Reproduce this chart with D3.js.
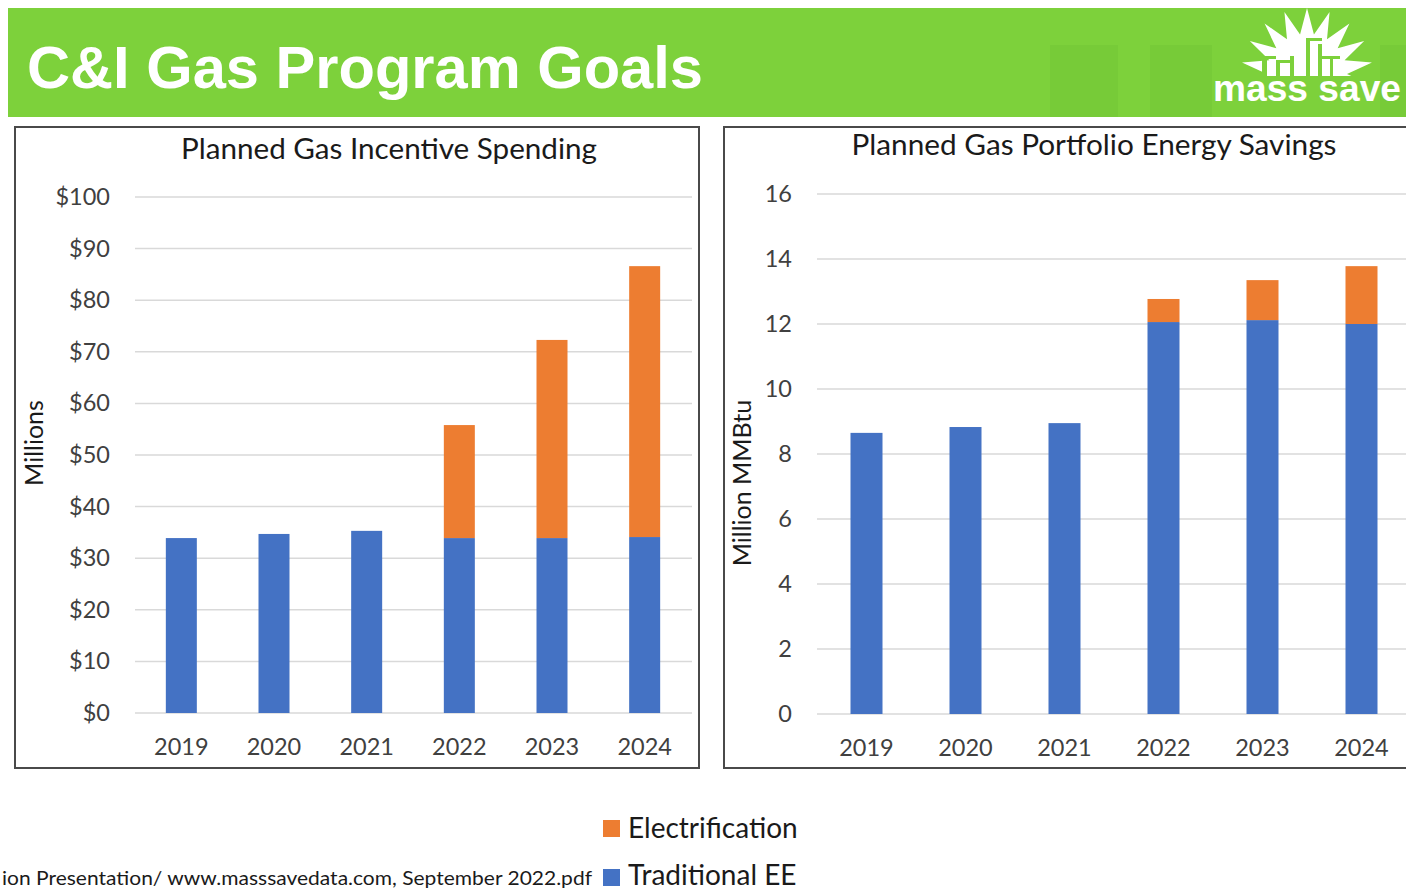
<!DOCTYPE html>
<html>
<head>
<meta charset="utf-8">
<script src="https://cdn.jsdelivr.net/npm/d3@7"></script>
<style>
  body { margin: 0; background: #fff; }
  svg { display: block; }
</style>
</head>
<body>
<div id="chart"></div>
<script>
// data
var years = ["2019", "2020", "2021", "2022", "2023", "2024"];
var seriesNames = ["Traditional EE", "Electrification"];
var spendTraditional = [33.9, 34.7, 35.3, 33.9, 33.9, 34.1];
var spendElectrification = [0, 0, 0, 21.9, 38.4, 52.5];
var spendTicks = [0, 10, 20, 30, 40, 50, 60, 70, 80, 90, 100];
var savingsTraditional = [8.65, 8.83, 8.95, 12.06, 12.12, 12.0];
var savingsElectrification = [0, 0, 0, 0.71, 1.23, 1.78];
var savingsTicks = [0, 2, 4, 6, 8, 10, 12, 14, 16];

var colors = {"Traditional EE": "#4472c4", "Electrification": "#ed7d31"};
var font = "Lato, 'Open Sans', sans-serif";
var textCol = "#404040";
var green = "#7dd13b";

var width = 1406, height = 891;
var svg = d3.select("#chart").append("svg")
    .attr("width", width).attr("height", height);

// header band
svg.append("rect").attr("x", 8).attr("y", 8).attr("width", 1398).attr("height", 109)
    .attr("fill", green);
[[1050, 45, 68], [1150, 45, 62], [1380, 45, 26]].forEach(function (b) {
  svg.append("rect").attr("x", b[0]).attr("y", b[1]).attr("width", b[2]).attr("height", 72)
      .attr("fill", "#73c737").attr("opacity", 0.6);
});
svg.append("text").attr("x", 27).attr("y", 88)
    .attr("font-family", "'Liberation Sans', Arial, sans-serif")
    .attr("font-weight", "bold").attr("font-size", 59).attr("fill", "#fff")
    .attr("textLength", 676).attr("lengthAdjust", "spacingAndGlyphs")
    .text("C&I Gas Program Goals");

// logo: sunburst + skyline + wordmark
var logo = svg.append("g");
var cx = 1307, cy = 74, pts = [];
for (var i = 0; i < 36; i++) {
  var a = Math.PI * i / 18 - Math.PI / 2, r = i % 2 ? 40 : 66;
  pts.push([cx + r * Math.cos(a), cy + r * Math.sin(a)]);
}
svg.append("clipPath").attr("id", "sunclip").append("rect")
    .attr("x", 1230).attr("y", 0).attr("width", 160).attr("height", 76);
logo.append("path").attr("d", d3.line()(pts) + "Z").attr("fill", "#fff")
    .attr("clip-path", "url(#sunclip)");
// skyline cut into the sun
[[1262, 58, 5, 18], [1276, 62, 4, 14], [1290, 56, 4, 20], [1306, 40, 4, 36],
 [1318, 44, 4, 32], [1330, 58, 3, 18], [1262, 56, 14, 3], [1276, 60, 14, 3],
 [1306, 38, 16, 3], [1322, 56, 18, 3]].forEach(function (b) {
  logo.append("rect").attr("x", b[0]).attr("y", b[1]).attr("width", b[2]).attr("height", b[3])
      .attr("fill", green);
});
logo.append("text").attr("x", 1213).attr("y", 101)
    .attr("font-family", "'Liberation Sans', Arial, sans-serif")
    .attr("font-weight", "bold").attr("font-size", 37).attr("fill", "#fff")
    .attr("textLength", 188).attr("lengthAdjust", "spacingAndGlyphs")
    .text("mass save");

function drawPanel(opt) {
  var g = svg.append("g");
  g.append("rect").attr("x", opt.box[0]).attr("y", opt.box[1])
      .attr("width", opt.box[2]).attr("height", opt.box[3])
      .attr("fill", "#fff").attr("stroke", "#4a4a4a").attr("stroke-width", 2);

  var x = d3.scaleBand().domain(years).range(opt.xRange).paddingInner(opt.pad).paddingOuter(opt.pad / 2);
  var y = d3.scaleLinear().domain([0, opt.ticks[opt.ticks.length - 1]]).range(opt.yRange);

  g.append("g").selectAll("line").data(opt.ticks).join("line")
      .attr("x1", opt.gridX[0]).attr("x2", opt.gridX[1])
      .attr("y1", function (d) { return y(d); }).attr("y2", function (d) { return y(d); })
      .attr("stroke", "#d9d9d9").attr("stroke-width", 1.5);

  var yAxis = d3.axisLeft(y).tickValues(opt.ticks).tickSize(0).tickPadding(0).tickFormat(opt.fmt);
  var ya = g.append("g").attr("transform", "translate(" + opt.tickX + ",0)").call(yAxis);
  ya.select(".domain").remove();
  ya.selectAll("text").attr("font-family", font).attr("font-size", 23.5).attr("fill", textCol);

  var xAxis = d3.axisBottom(x).tickSize(0).tickPadding(0);
  var xa = g.append("g").attr("transform", "translate(0," + opt.yearY + ")").call(xAxis);
  xa.select(".domain").remove();
  xa.selectAll("text").attr("font-family", font).attr("font-size", 23.5).attr("fill", textCol);

  var rows = years.map(function (yr, i) {
    return {year: yr, "Traditional EE": opt.trad[i], "Electrification": opt.elec[i]};
  });
  var stacked = d3.stack().keys(seriesNames)(rows);
  g.append("g").selectAll("g").data(stacked).join("g")
      .attr("fill", function (s) { return colors[s.key]; })
    .selectAll("rect").data(function (s) { return s.filter(function (d) { return d[1] > d[0]; }); }).join("rect")
      .attr("x", function (d) { return x(d.data.year) + (x.bandwidth() - opt.barW) / 2; })
      .attr("width", opt.barW)
      .attr("y", function (d) { return y(d[1]); })
      .attr("height", function (d) { return y(d[0]) - y(d[1]); });

  g.append("text").attr("x", opt.titleX).attr("y", opt.titleY).attr("text-anchor", "middle")
      .attr("font-family", font).attr("font-size", 28).attr("fill", "#1a1a1a")
      .attr("textLength", opt.titleW).attr("lengthAdjust", "spacingAndGlyphs")
      .text(opt.title);
  g.append("text").attr("transform", "translate(" + opt.ylabel[0] + "," + opt.ylabel[1] + ") rotate(-90)")
      .attr("text-anchor", "middle").attr("font-family", font).attr("font-size", 25)
      .attr("fill", "#1a1a1a").text(opt.ylabelText);
}

drawPanel({
  box: [15, 127, 684, 641],
  xRange: [135, 691], pad: 0.66, barW: 31,
  yRange: [713, 197], ticks: spendTicks,
  fmt: function (d) { return "$" + d; },
  gridX: [135, 692], tickX: 110, yearY: 738,
  trad: spendTraditional, elec: spendElectrification,
  title: "Planned Gas Incentive Spending", titleX: 389, titleY: 159, titleW: 416,
  ylabel: [43, 443], ylabelText: "Millions"
});

drawPanel({
  box: [724, 127, 700, 641],
  xRange: [817, 1411], pad: 0.68, barW: 32,
  yRange: [714, 194], ticks: savingsTicks,
  fmt: function (d) { return d; },
  gridX: [817, 1406], tickX: 792, yearY: 739,
  trad: savingsTraditional, elec: savingsElectrification,
  title: "Planned Gas Portfolio Energy Savings", titleX: 1094, titleY: 155, titleW: 485,
  ylabel: [751, 483], ylabelText: "Million MMBtu"
});

// legend
var legend = svg.append("g");
["Electrification", "Traditional EE"].forEach(function (k, i) {
  legend.append("rect").attr("x", 603).attr("y", 820 + i * 49).attr("width", 17).attr("height", 17)
      .attr("fill", colors[k]);
  legend.append("text").attr("x", 628).attr("y", 838 + i * 47)
      .attr("font-family", font).attr("font-size", 28).attr("fill", "#1a1a1a").text(k);
});

// source line along the bottom edge
svg.append("text").attr("x", 2).attr("y", 885)
    .attr("font-family", font).attr("font-size", 19).attr("fill", "#1a1a1a")
    .attr("textLength", 590).attr("lengthAdjust", "spacingAndGlyphs")
    .text("ion Presentation/ www.masssavedata.com, September 2022.pdf");
</script>
</body>
</html>
